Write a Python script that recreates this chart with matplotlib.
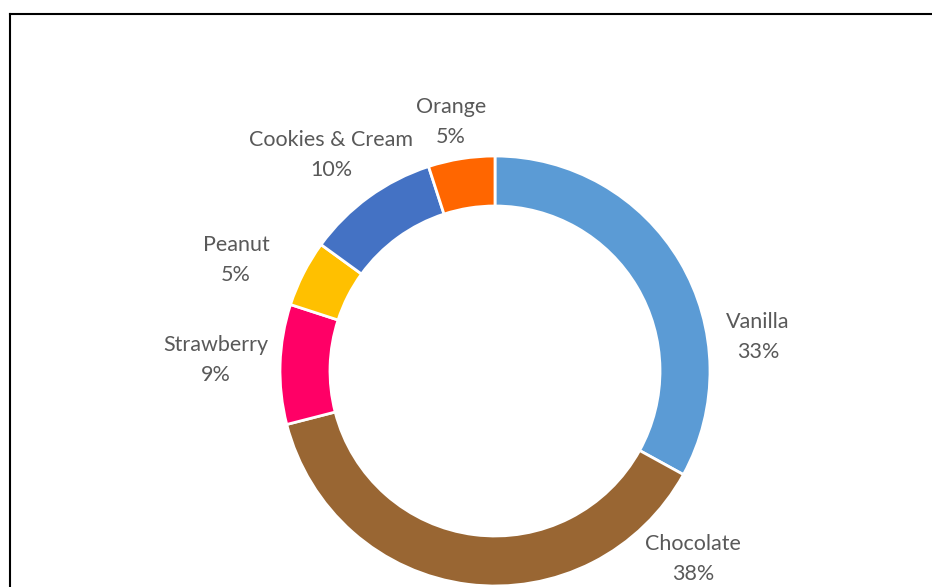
import matplotlib.pyplot as plt
from matplotlib.lines import Line2D

flavours = ['Vanilla', 'Chocolate', 'Strawberry', 'Peanut', 'Cookies & Cream', 'Orange']
shares = [33, 38, 9, 5, 10, 5]
colours = ['#5B9BD5', '#996633', '#FF0066', '#FFC000', '#4472C4', '#FF6600']

# label centres (pixels from top-left of the figure)
label_px = [(758, 337), (693, 559), (216, 360), (236, 260), (331, 155), (451, 122)]

W, H = 932, 587
cx, cy = 495, 371
R = 215

fig = plt.figure(figsize=(W / 100, H / 100), dpi=100)
ax = fig.add_axes([0, 0, 1, 1])

ax.pie(shares, colors=colours, radius=R, startangle=90, counterclock=False,
       wedgeprops=dict(width=50, edgecolor='white', linewidth=2))

# pie() resets the limits, so set them afterwards
ax.set_xlim(-cx, W - cx)
ax.set_ylim(-(H - cy), cy)
ax.set_aspect('equal')
ax.axis('off')

for name, val, (px, py) in zip(flavours, shares, label_px):
    ax.text(px - cx, cy - py, f'{name}\n{val}%', ha='center', va='center',
            fontsize=15.5, color='#595959', family='Lato', linespacing=1.6)

# outer frame (left and top edges only are inside the canvas)
fig.add_artist(Line2D([9.5 / W, 9.5 / W], [0, 1 - 13.5 / H], transform=fig.transFigure,
                      color='black', lw=1.5))
fig.add_artist(Line2D([9.5 / W, 1], [1 - 13.5 / H, 1 - 13.5 / H], transform=fig.transFigure,
                      color='black', lw=1.5))

fig.savefig('out.png', dpi=100, facecolor='white')
